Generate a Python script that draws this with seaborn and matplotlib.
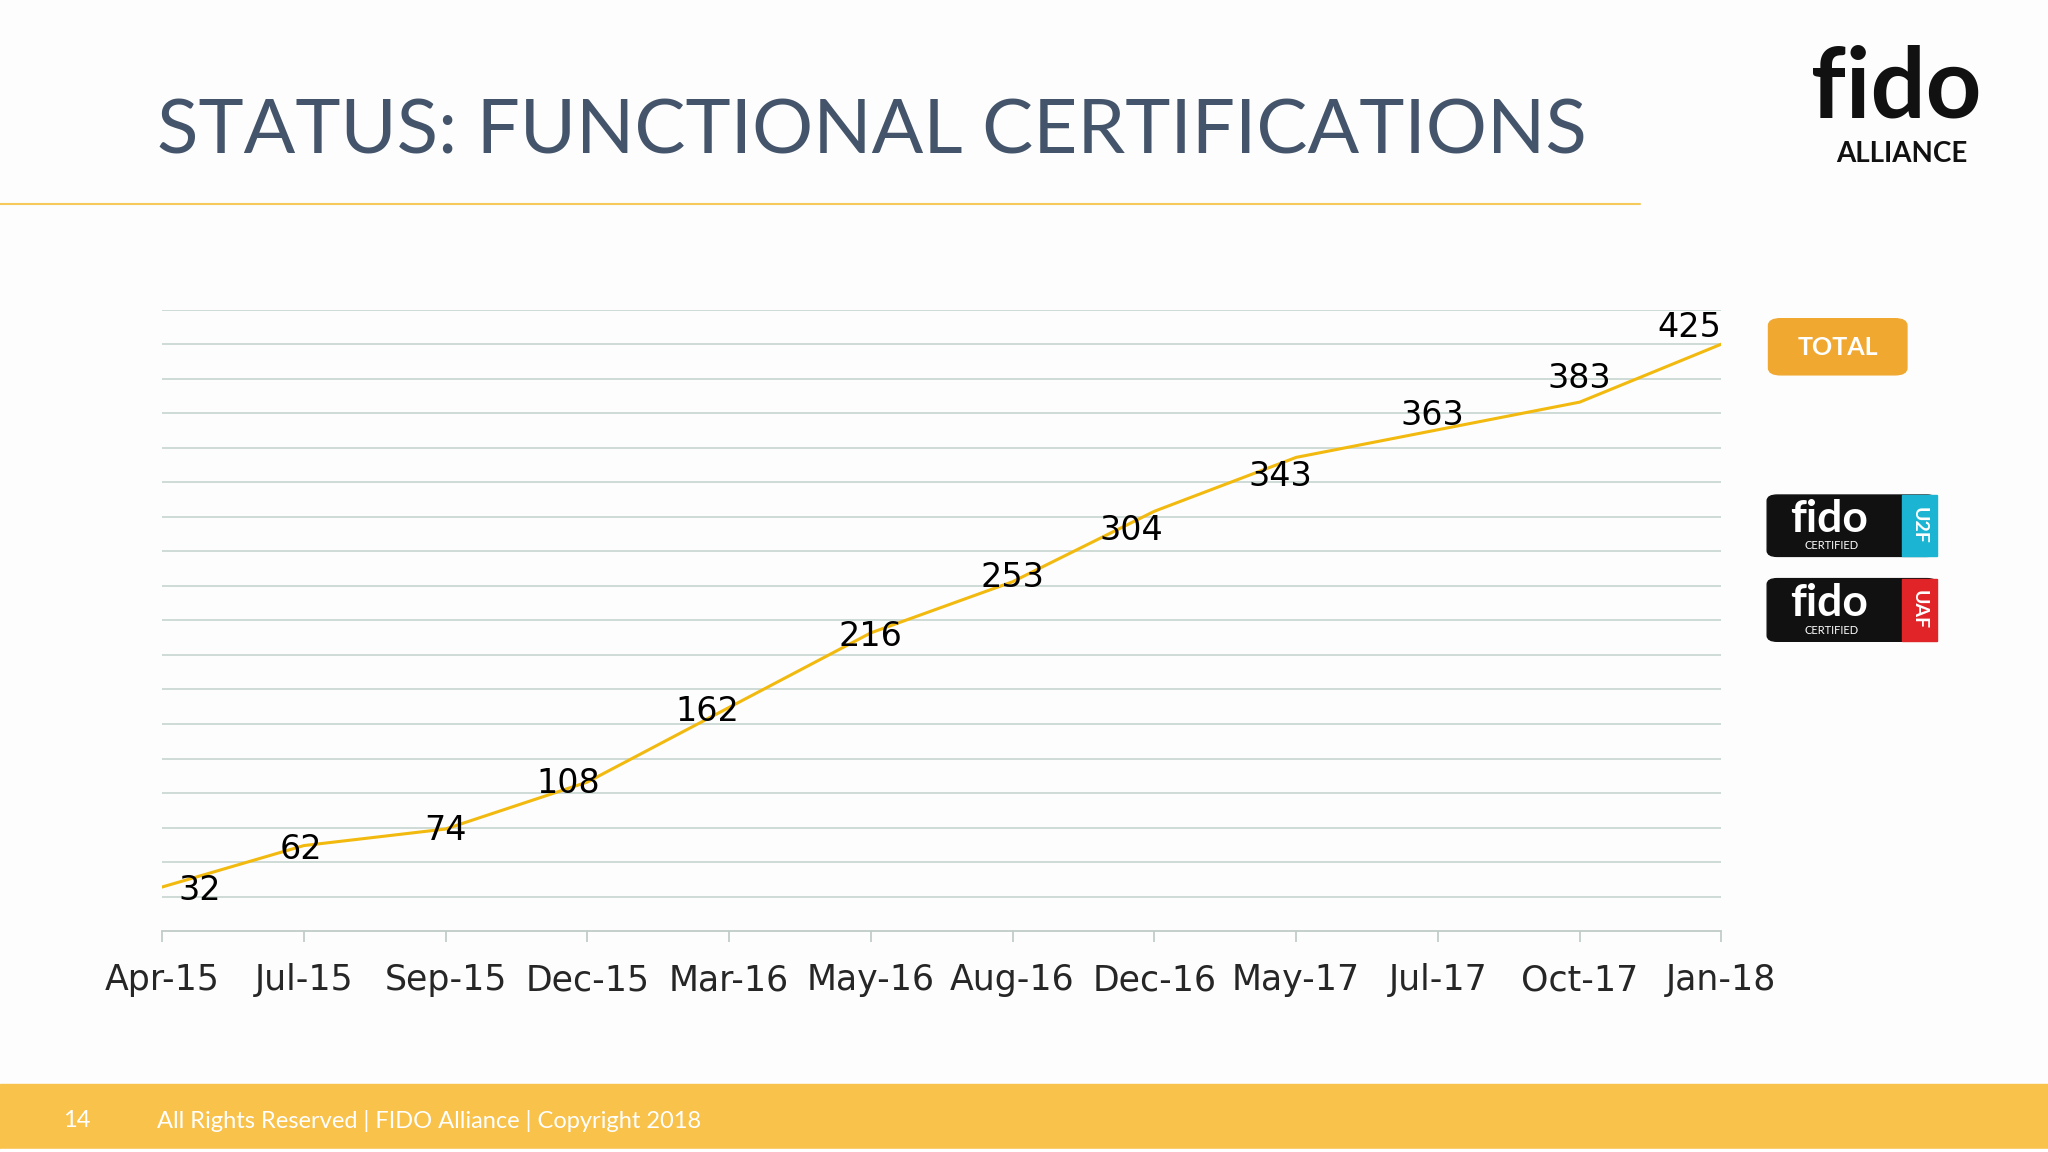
import matplotlib
matplotlib.use("Agg")
import matplotlib.pyplot as plt
import seaborn as sns
import pandas as pd
from matplotlib.patches import FancyBboxPatch, Rectangle

months = ["Apr-15","Jul-15","Sep-15","Dec-15","Mar-16","May-16","Aug-16","Dec-16","May-17","Jul-17","Oct-17","Jan-18"]
totals = [32,62,74,108,162,216,253,304,343,363,383,425]
# label offsets (px in 1568-wide space): dx, dy(up)
label_dx = [29,-2,0,-15,-17,0,0,-18,-12,-4,0,-25]
label_dy = [-3,-3,-1,-1,-3,-3,3,-15,-15,11,18,13]
df = pd.DataFrame({"month": months, "total": totals, "idx": range(len(months))})

sns.set_theme(style="white")
plt.rcParams['font.family'] = ['Lato', 'DejaVu Sans']

W, H = 1568, 882
S = 2048 / W
fig = plt.figure(figsize=(20.48, 11.52), dpi=100)
fig.patch.set_facecolor("#FDFDFD")
def fx(x): return x / W
def fy(y): return 1 - y / H

ax = fig.add_axes([fx(124), fy(713), fx(1318) - fx(124), fy(237) - fy(713)])
ax.set_facecolor("#FDFDFD")
for v in range(25, 451, 25):
    ax.axhline(v, color="#C9D8D2", lw=1.3, zorder=0)
sns.lineplot(data=df, x="idx", y="total", ax=ax, color="#F2B90F", lw=2.2, zorder=2)
for i, v in enumerate(totals):
    ax.annotate(str(v), (i, v), xytext=(label_dx[i] * S, label_dy[i] * S),
                textcoords="offset pixels", ha="center", va="center", fontsize=24,
                family=["DejaVu Sans"], color="black", zorder=3, annotation_clip=False)
ax.set_xlim(0, len(months) - 1)
ax.set_ylim(0, 450)
ax.set_xticks(range(len(months)))
ax.set_xticklabels(months, fontsize=25, family=["DejaVu Sans"])
ax.tick_params(axis="x", length=8, color="#BFCBC6", pad=15, bottom=True)
ax.set_yticks([])
ax.set_xlabel(""); ax.set_ylabel("")
for s in ["top", "right", "left"]:
    ax.spines[s].set_visible(False)
ax.spines["bottom"].set_color("#BFCBC6")
ax.spines["bottom"].set_linewidth(1.3)

# title
fig.text(fx(120), fy(101), "STATUS: FUNCTIONAL CERTIFICATIONS", fontsize=55,
         color="#44546A", va="center", ha="left")
fig.add_artist(plt.Line2D([0, fx(1256)], [fy(156), fy(156)], color="#F5C95A", lw=1.5))

# footer
fig.add_artist(Rectangle((0, fy(880)), 1, fy(830) - fy(880), color="#F9C24B", transform=fig.transFigure))
fig.add_artist(Rectangle((0, 0), 1, fy(880), color="white", transform=fig.transFigure))
fig.text(fx(48), fy(858), "14", fontsize=17, color="white", va="center")
fig.text(fx(120), fy(858), "All Rights Reserved | FIDO Alliance | Copyright 2018",
         fontsize=17, color="white", va="center")

# fido logo
fig.text(fx(1452), fy(68), "fido", fontsize=70, fontweight="bold", color="#111111",
         ha="center", va="center")
fig.text(fx(1456), fy(118), "ALLIANCE", fontsize=20, fontweight="bold", color="#111111",
         ha="center", va="center")

# TOTAL badge
fig.add_artist(FancyBboxPatch((fx(1354), fy(287)), fx(106), fy(244) - fy(287),
               boxstyle="round,pad=0,rounding_size=0.006", color="#F0A830",
               transform=fig.transFigure))
fig.text(fx(1407), fy(266), "TOTAL", fontsize=18, fontweight="bold", color="white",
         ha="center", va="center")

# certified badges
for y0, y1, tab, tcol in [(379, 426, "U2F", "#1BB5D3"), (443, 491, "UAF", "#E02428")]:
    fig.add_artist(FancyBboxPatch((fx(1353), fy(y1)), fx(130), fy(y0) - fy(y1),
                   boxstyle="round,pad=0,rounding_size=0.005", color="#111111",
                   transform=fig.transFigure))
    fig.add_artist(Rectangle((fx(1456), fy(y1)), fx(27), fy(y0) - fy(y1), color=tcol,
                   transform=fig.transFigure))
    fig.text(fx(1400), fy((y0 + y1) / 2 - 5), "fido", fontsize=32, fontweight="bold",
             color="white", ha="center", va="center")
    fig.text(fx(1402), fy(y1 - 8), "CERTIFIED", fontsize=8, color="white",
             ha="center", va="center")
    fig.text(fx(1469), fy((y0 + y1) / 2), tab, fontsize=14, fontweight="bold",
             color="white", ha="center", va="center", rotation=270)

fig.savefig("out.png", dpi=100, facecolor=fig.get_facecolor())
